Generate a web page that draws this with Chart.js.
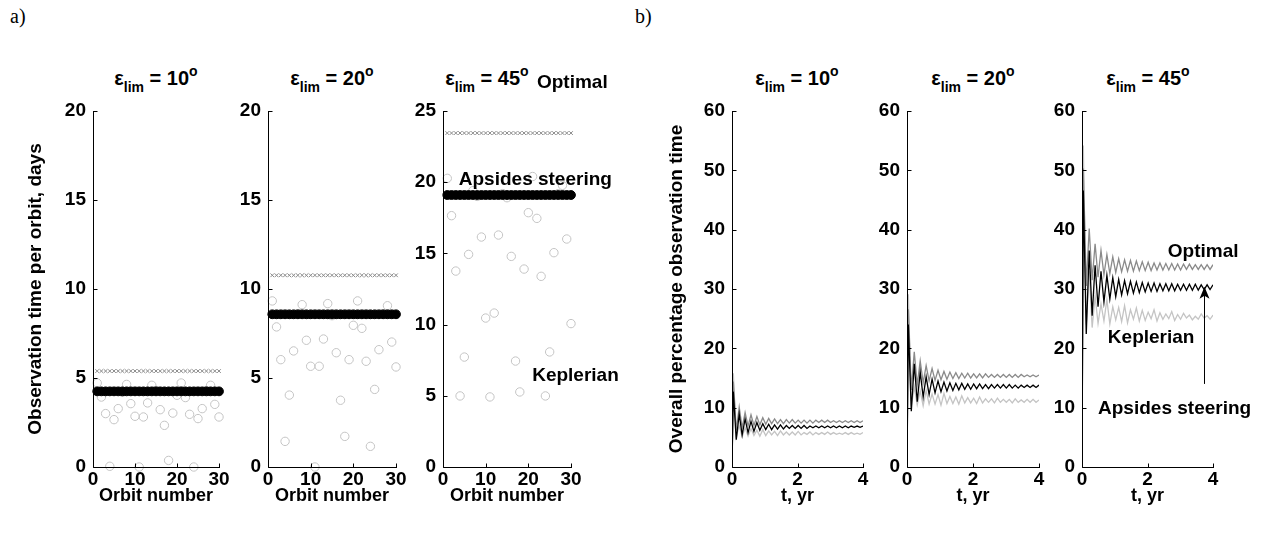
<!DOCTYPE html>
<html>
<head>
<meta charset="utf-8">
<script src="https://cdn.jsdelivr.net/npm/chart.js@4.4.1/dist/chart.umd.min.js"></script>
<style>
  body { margin: 0; background: #fff; }
  #fig { position: relative; width: 1267px; height: 533px; overflow: hidden; font-family: "Liberation Sans", Arial, sans-serif; }
  canvas { position: absolute; top: 60px; }
  .tag { position: absolute; top: 5px; font-family: "Liberation Serif", "Times New Roman", serif; font-size: 20px; }
  .ttl { position: absolute; top: 68px; transform: translateX(-50%); font-weight: bold; font-size: 20px; line-height: 20px; white-space: nowrap; }
  .ttl sub { font-size: 14px; vertical-align: -7px; line-height: 0; }
  .ttl sup { font-size: 14px; vertical-align: 9px; line-height: 0; }
</style>
</head>
<body>
<div id="fig">
  <div class="tag" style="left:10px">a)</div>
  <div class="tag" style="left:635px">b)</div>
  <div class="ttl" style="left:156px">&epsilon;<sub>lim</sub> = 10<sup>o</sup></div>
  <div class="ttl" style="left:332px">&epsilon;<sub>lim</sub> = 20<sup>o</sup></div>
  <div class="ttl" style="left:487px">&epsilon;<sub>lim</sub> = 45<sup>o</sup></div>
  <div class="ttl" style="left:797px">&epsilon;<sub>lim</sub> = 10<sup>o</sup></div>
  <div class="ttl" style="left:973px">&epsilon;<sub>lim</sub> = 20<sup>o</sup></div>
  <div class="ttl" style="left:1148px">&epsilon;<sub>lim</sub> = 45<sup>o</sup></div>
  <canvas id="a1" width="235" height="473" style="left:0px"></canvas>
  <canvas id="a2" width="185" height="473" style="left:225px"></canvas>
  <canvas id="a3" width="225" height="473" style="left:400px"></canvas>
  <canvas id="b1" width="235" height="473" style="left:640px"></canvas>
  <canvas id="b2" width="180" height="473" style="left:870px"></canvas>
  <canvas id="b3" width="222" height="473" style="left:1045px"></canvas>
</div>
<script>
// a) observation time per orbit, days
var orbits = [1, 2, 3, 4, 5, 6, 7, 8, 9, 10, 11, 12, 13, 14, 15, 16, 17, 18, 19, 20, 21, 22, 23, 24, 25, 26, 27, 28, 29, 30];
var kepler10 = [4.72, 3.93, 3.00, 0.04, 2.66, 3.28, 4.20, 4.64, 3.56, 2.85, 0.00, 2.81, 3.60, 4.59, 4.30, 3.22, 2.34, 0.37, 3.03, 4.03, 4.72, 3.90, 2.96, 0.00, 2.72, 3.28, 4.30, 4.59, 3.52, 2.81];
var kepler20 = [9.33, 7.87, 6.03, 1.44, 4.04, 6.52, 8.60, 9.12, 7.12, 5.66, 0.00, 5.66, 7.19, 9.18, 8.50, 6.42, 3.75, 1.72, 6.03, 7.96, 9.33, 7.79, 5.94, 1.16, 4.36, 6.59, 8.60, 9.06, 7.02, 5.62];
var kepler45 = [20.27, 17.65, 13.76, 4.99, 7.72, 14.93, 19.4, 19.0, 16.15, 10.46, 4.92, 10.81, 16.29, 19.2, 18.91, 14.79, 7.44, 5.27, 13.90, 17.86, 20.4, 17.46, 13.39, 4.99, 8.08, 15.05, 19.2, 19.78, 16.01, 10.07];
var apsidesLevel = [4.25, 8.58, 19.10];
var optimalLevel = [5.39, 10.77, 23.45];

// b) overall percentage observation time: curve vertices (peak / trough per half orbit)
var startPct = 0;
var tYears = [0, 0.04, 0.13, 0.22, 0.31, 0.40, 0.49, 0.58, 0.67, 0.76, 0.85, 0.94, 1.03, 1.12, 1.21, 1.30, 1.39, 1.48, 1.57, 1.66, 1.75, 1.84, 1.93, 2.02, 2.11, 2.20, 2.29, 2.38, 2.47, 2.56, 2.65, 2.74, 2.83, 2.92, 3.01, 3.10, 3.19, 3.28, 3.37, 3.46, 3.55, 3.64, 3.73, 3.82, 3.91, 4.00];

var opt10Peaks = [14.4, 10.1, 9.2, 8.8, 8.5, 8.3, 8.2, 8.1, 8.0, 8.0, 8.0, 7.9, 7.9, 7.9, 7.9, 7.9, 7.9, 7.8, 7.8, 7.8, 7.8, 7.8, 7.8];
var opt10Troughs = [6.2, 6.6, 6.9, 7.0, 7.1, 7.2, 7.3, 7.3, 7.3, 7.4, 7.4, 7.4, 7.4, 7.4, 7.5, 7.5, 7.5, 7.5, 7.5, 7.5, 7.5, 7.5];
var aps10Peaks = [12.7, 8.9, 8.1, 7.7, 7.5, 7.3, 7.2, 7.1, 7.1, 7.0, 7.0, 7.0, 7.0, 6.9, 6.9, 6.9, 6.9, 6.9, 6.9, 6.9, 6.9, 6.9, 6.9];
var aps10Troughs = [4.6, 5.4, 5.8, 6.0, 6.2, 6.3, 6.3, 6.4, 6.4, 6.5, 6.5, 6.5, 6.5, 6.6, 6.6, 6.6, 6.6, 6.6, 6.6, 6.6, 6.7, 6.7];
var kep10Peaks = [15.8, 7.0, 6.6, 6.5, 6.2, 6.3, 6.1, 6.0, 6.1, 5.9, 5.9, 6.0, 5.8, 5.9, 5.8, 5.8, 5.9, 5.8, 5.7, 5.8, 5.8, 5.7, 5.8];
var kep10Troughs = [5.0, 5.1, 5.2, 5.3, 5.2, 5.3, 5.4, 5.3, 5.4, 5.4, 5.4, 5.4, 5.5, 5.4, 5.5, 5.5, 5.5, 5.5, 5.5, 5.5, 5.5, 5.5];

var opt20Peaks = [26.6, 19.4, 17.9, 17.1, 16.6, 16.3, 16.1, 16.0, 15.9, 15.8, 15.8, 15.7, 15.7, 15.7, 15.6, 15.6, 15.6, 15.6, 15.6, 15.6, 15.5, 15.5, 15.5];
var opt20Troughs = [13.0, 13.8, 14.2, 14.5, 14.6, 14.7, 14.8, 14.9, 14.9, 15.0, 15.0, 15.0, 15.0, 15.1, 15.1, 15.1, 15.1, 15.1, 15.1, 15.2, 15.2, 15.2];
var aps20Peaks = [24.0, 17.4, 16.0, 15.2, 14.8, 14.5, 14.3, 14.2, 14.1, 14.1, 14.0, 14.0, 14.0, 13.9, 13.9, 13.9, 13.9, 13.9, 13.8, 13.8, 13.8, 13.8, 13.8];
var aps20Troughs = [9.4, 11.0, 11.8, 12.2, 12.5, 12.7, 12.8, 12.9, 13.0, 13.1, 13.1, 13.2, 13.2, 13.2, 13.3, 13.3, 13.3, 13.3, 13.3, 13.4, 13.4, 13.4];
var kep20Peaks = [29.1, 13.5, 12.8, 12.9, 12.3, 12.2, 12.4, 11.9, 11.8, 12.0, 11.7, 11.6, 11.8, 11.5, 11.5, 11.6, 11.4, 11.4, 11.5, 11.3, 11.4, 11.4, 11.3];
var kep20Troughs = [10.2, 10.5, 10.3, 10.6, 10.6, 10.4, 10.7, 10.7, 10.6, 10.8, 10.8, 10.7, 10.8, 10.9, 10.8, 10.9, 10.9, 10.8, 10.9, 10.9, 10.9, 10.9];

var opt45Peaks = [50.3, 40.2, 37.6, 36.5, 35.8, 35.4, 35.1, 34.9, 34.8, 34.7, 34.6, 34.5, 34.4, 34.4, 34.3, 34.3, 34.2, 34.2, 34.2, 34.1, 34.1, 34.1, 34.1];
var opt45Troughs = [30.5, 31.5, 32.0, 32.4, 32.6, 32.8, 32.9, 33.0, 33.0, 33.1, 33.1, 33.1, 33.2, 33.2, 33.2, 33.2, 33.2, 33.3, 33.3, 33.3, 33.3, 33.3];
var aps45Peaks = [46.6, 36.5, 34.0, 33.0, 32.3, 31.9, 31.6, 31.4, 31.3, 31.2, 31.1, 31.0, 31.0, 30.9, 30.9, 30.9, 30.8, 30.8, 30.8, 30.8, 30.7, 30.7, 30.7];
var aps45Troughs = [22.4, 25.5, 27.0, 27.8, 28.3, 28.7, 29.0, 29.2, 29.3, 29.4, 29.5, 29.6, 29.6, 29.7, 29.7, 29.7, 29.8, 29.8, 29.8, 29.8, 29.9, 29.9];
var kep45Peaks = [54.2, 33.0, 28.8, 27.5, 28.2, 27.0, 26.9, 27.2, 26.5, 26.8, 26.4, 26.1, 26.5, 26.0, 25.8, 26.2, 25.7, 25.9, 25.6, 25.4, 25.8, 25.5, 25.6];
var kep45Troughs = [24.0, 23.5, 24.2, 24.6, 24.1, 24.8, 24.5, 24.3, 24.9, 24.6, 24.7, 25.0, 24.6, 24.9, 25.0, 24.7, 24.9, 25.1, 24.8, 24.9, 25.1, 24.9];

var FONT = '"Liberation Sans", Arial, sans-serif';
Chart.defaults.font.family = FONT;
Chart.defaults.font.size = 19;
Chart.defaults.font.weight = 'bold';
Chart.defaults.color = '#000';
Chart.defaults.animation = false;

var GREY_KEP = '#c4c4c4';
var GREY_OPT = '#8a8a8a';

function orbitPoints(vals) {
    return orbits.map(function(n, i) { return { x: n, y: vals[i] }; });
}
function levelPoints(level) {
    return orbits.map(function(n) { return { x: n, y: level }; });
}
function zigzag(peaks, troughs) {
    var pts = [{ x: tYears[0], y: startPct }];
    for (var k = 1; k < tYears.length; k++) {
        var i = k - 1;
        pts.push({ x: tYears[k], y: i % 2 === 0 ? peaks[i / 2] : troughs[(i - 1) / 2] });
    }
    return pts;
}

function orbitSets(kep, idx) {
    return [
        { data: levelPoints(apsidesLevel[idx]), pointStyle: 'circle', pointRadius: 4.4, pointBackgroundColor: '#000', pointBorderColor: '#000', pointBorderWidth: 1, clip: false },
        { data: levelPoints(optimalLevel[idx]), pointStyle: 'crossRot', pointRadius: 2.6, pointBorderColor: GREY_OPT, pointBorderWidth: 1, clip: false },
        { data: orbitPoints(kep), pointStyle: 'circle', pointRadius: 4.2, pointBackgroundColor: 'rgba(0,0,0,0)', pointBorderColor: GREY_KEP, pointBorderWidth: 1, clip: false }
    ];
}
function lineSets(ap, at, op, ot, kp, kt) {
    var base = { showLine: true, pointRadius: 0, borderWidth: 1.3, tension: 0 };
    return [
        Object.assign({ data: zigzag(ap, at), borderColor: '#000' }, base),
        Object.assign({ data: zigzag(op, ot), borderColor: GREY_OPT }, base),
        Object.assign({ data: zigzag(kp, kt), borderColor: GREY_KEP }, base)
    ];
}

// MATLAB-like axes: left + bottom lines, ticks pointing inward, text notes
function axesPlugin(o) {
    return {
        id: 'matlabAxes',
        afterDatasetsDraw: function(chart) {
            var ctx = chart.ctx, a = chart.chartArea, xs = chart.scales.x, ys = chart.scales.y;
            ctx.save();
            ctx.strokeStyle = '#000';
            ctx.lineWidth = 1;
            ctx.beginPath();
            var L = Math.round(a.left) + 0.5, B = Math.round(a.bottom) + 0.5;
            ctx.moveTo(L, Math.round(a.top));
            ctx.lineTo(L, B);
            ctx.lineTo(Math.round(a.right) + 1, B);
            xs.ticks.forEach(function(t) {
                var px = Math.round(xs.getPixelForValue(t.value)) + 0.5;
                ctx.moveTo(px, B); ctx.lineTo(px, B - 4);
            });
            ys.ticks.forEach(function(t) {
                var py = Math.round(ys.getPixelForValue(t.value)) + 0.5;
                ctx.moveTo(L, py); ctx.lineTo(L + 4, py);
            });
            ctx.stroke();

            ctx.fillStyle = '#000';
            ctx.font = 'bold 19px ' + FONT;
            ctx.textBaseline = 'middle';
            (o.notes || []).forEach(function(n) {
                ctx.textAlign = n.align;
                ctx.fillText(n.text, xs.getPixelForValue(n.x), ys.getPixelForValue(n.y));
            });
            if (o.arrow) {
                var ax = Math.round(xs.getPixelForValue(o.arrow.x)) + 0.5;
                var y0 = ys.getPixelForValue(o.arrow.from), y1 = ys.getPixelForValue(o.arrow.to);
                ctx.beginPath();
                ctx.moveTo(ax, y0); ctx.lineTo(ax, y1 + 8);
                ctx.stroke();
                ctx.beginPath();
                ctx.moveTo(ax, y1);
                ctx.lineTo(ax - 5, y1 + 12);
                ctx.lineTo(ax, y1 + 9);
                ctx.lineTo(ax + 5, y1 + 12);
                ctx.closePath();
                ctx.fill();
            }
            ctx.restore();
        }
    };
}

function makeChart(id, o) {
    return new Chart(document.getElementById(id), {
        type: 'scatter',
        data: { datasets: o.datasets },
        options: {
            responsive: false,
            layout: { padding: { top: 51, right: o.rightPad, left: 0, bottom: 0 } },
            plugins: { legend: { display: false }, tooltip: { enabled: false } },
            scales: {
                x: {
                    type: 'linear', min: 0, max: o.xMax,
                    grid: { display: false, drawTicks: false }, border: { display: false },
                    ticks: { stepSize: o.xStep, padding: 1, maxRotation: 0, autoSkip: false },
                    title: { display: true, text: o.xTitle, font: { size: 18 }, padding: { top: 0, bottom: 26 } },
                    afterFit: function(s) { s.height = 66; }
                },
                y: {
                    type: 'linear', min: 0, max: o.yMax,
                    grid: { display: false, drawTicks: false }, border: { display: false },
                    ticks: { stepSize: o.yStep, padding: 7 },
                    title: { display: !!o.yTitle, text: o.yTitle || '', padding: { top: o.yTitlePad || 0, bottom: 0 } },
                    afterFit: function(s) { s.width = o.yWidth; }
                }
            }
        },
        plugins: [axesPlugin(o)]
    });
}

makeChart('a1', { datasets: orbitSets(kepler10, 0), xMax: 30, xStep: 10, yMax: 20, yStep: 5,
    xTitle: 'Orbit number', yTitle: 'Observation time per orbit, days', yTitlePad: 24, yWidth: 93, rightPad: 16 });
makeChart('a2', { datasets: orbitSets(kepler20, 1), xMax: 30, xStep: 10, yMax: 20, yStep: 5,
    xTitle: 'Orbit number', yWidth: 43, rightPad: 14 });
makeChart('a3', { datasets: orbitSets(kepler45, 2), xMax: 30, xStep: 10, yMax: 25, yStep: 5,
    xTitle: 'Orbit number', yWidth: 43, rightPad: 54,
    notes: [
        { text: 'Optimal', x: 38.6, y: 27.0, align: 'right' },
        { text: 'Apsides steering', x: 3.7, y: 20.15, align: 'left' },
        { text: 'Keplerian', x: 20.9, y: 6.4, align: 'left' }
    ] });

makeChart('b1', { datasets: lineSets(aps10Peaks, aps10Troughs, opt10Peaks, opt10Troughs, kep10Peaks, kep10Troughs),
    xMax: 4, xStep: 2, yMax: 60, yStep: 10,
    xTitle: 't, yr', yTitle: 'Overall percentage observation time', yTitlePad: 25, yWidth: 92, rightPad: 12 });
makeChart('b2', { datasets: lineSets(aps20Peaks, aps20Troughs, opt20Peaks, opt20Troughs, kep20Peaks, kep20Troughs),
    xMax: 4, xStep: 2, yMax: 60, yStep: 10, xTitle: 't, yr', yWidth: 37, rightPad: 11 });
makeChart('b3', { datasets: lineSets(aps45Peaks, aps45Troughs, opt45Peaks, opt45Troughs, kep45Peaks, kep45Troughs),
    xMax: 4, xStep: 2, yMax: 60, yStep: 10, xTitle: 't, yr', yWidth: 37, rightPad: 54,
    notes: [
        { text: 'Optimal', x: 2.62, y: 36.3, align: 'left' },
        { text: 'Keplerian', x: 0.79, y: 21.8, align: 'left' },
        { text: 'Apsides steering', x: 0.49, y: 9.8, align: 'left' }
    ],
    arrow: { x: 3.72, from: 14, to: 30.4 } });
</script>
</body>
</html>
